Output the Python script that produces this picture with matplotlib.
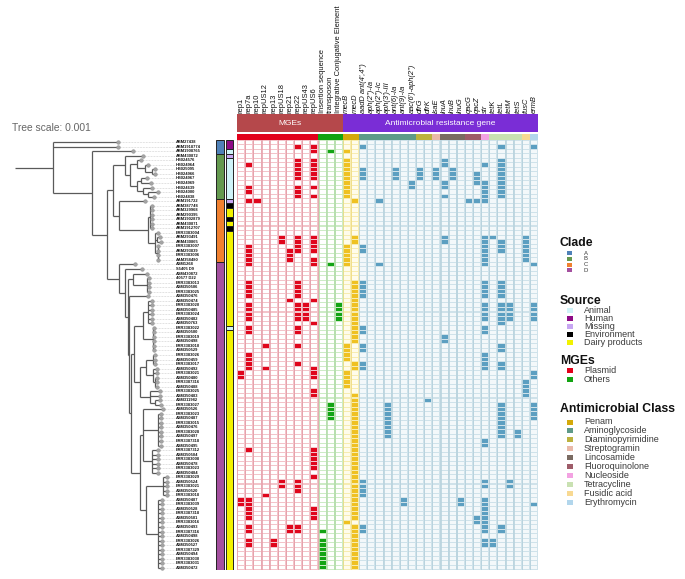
import matplotlib
matplotlib.use("Agg")
import matplotlib.pyplot as plt
from matplotlib.patches import Rectangle
from matplotlib.collections import PatchCollection, LineCollection

plt.rcParams['font.family'] = ['Liberation Sans', 'DejaVu Sans']

# ------------------------------------------------------------------ DATA
leaf_names = [
    "ABM27438", "ABM1918774", "ABM1908765", "ABM430872", "HB024576", "HB024964", "HB025095", "HB024966",
    "HB024967", "HB024969", "HB024639", "HB024000", "HB024838", "ABM191722", "ABM387748", "ABM329968",
    "ABM290395", "ABM1902879", "ABM430871", "ABM1912707", "ERR3383004", "ABM293491", "ABM430865",
    "ERR3383007", "ABM293839", "ERR3383006", "AAM358480",
    "ASM1268", "S5405 D9", "ASM430872", "40577 D22", "ERR3383013", "ASM350506", "ERR3383025", "ASM350476",
    "ASM350474", "ERR3383020", "ASM350485", "ERR3383024", "ASM350482", "ASM350763", "ERR3383022", "ASM350500",
    "ERR3383019", "ASM350498", "ERR3383010", "ASM350529", "ERR3383026", "ASM350459", "ERR3383017", "ASM350492",
    "ERR3383021", "ASM350480", "ERR3387316", "ASM350488", "ERR3383025", "ASM350483", "ASM311982", "ERR3383027",
    "ASM350526", "ERR3383023", "ASM350487", "ERR3383015", "ASM350476", "ERR3383028", "ASM350497", "ERR3387318",
    "ASM350495", "ERR3387312", "ASM350504", "ERR3383008", "ASM350478", "ERR3383023", "ASM350484", "ERR3383029",
    "ASM350524", "ERR3383021", "ASM350520", "ERR3383018", "ASM350487", "ERR3383039", "ASM350528", "ERR3387318",
    "ASM350501", "ERR3383016", "ASM350493", "ERR3387316", "ASM350498", "ERR3383026", "ASM350527", "ERR3387329",
    "ASM350494", "ERR3383030", "ERR3383031", "ASM350472",
]

# phylogeny (leaf = row index), branch lengths in 1e-5 substitutions/site
root_stem = 38
tree_newick = (
    "(0:64.7,1:64.7,(2:41,("
    "((3:18,((4:4,(5:3,(6:3,7:3):7):8):7,((8:6,9:10):4,(10:9,(11:10,12:6):5):6):7):5):12,"
    "(13:26,((14:2,15:2,16:2,17:2,18:2,19:2):2,(20:3,(21:3,22:4):2,(23:0.5,24:0.5,25:0.5,26:0.5):2.5):7):29):6):6,"
    "(27:16,(28:16.7,((29:14,(30:2,31:2,32:2,33:2):14):5,(34:19,("
    "(((35:4,36:4,37:4,38:4,39:4,40:4):5,(41:1,42:1,43:1,44:1,45:1,46:1):10):9,"
    "(((47:2,48:2,49:2):7,(50:4,51:4,(52:2,53:2,54:2):2):7):6,(55:10,56:10,(57:5,58:6):5):10):6):3,"
    "((59:20,(60:3,61:3,62:3,63:3,64:3,65:3,66:3,67:3):15,(68:6,69:6,70:6,71:6,72:6,73:6):9):3,"
    "((74:4,75:4,76:4,77:4,78:4):17,(79:4,80:4,81:4,82:4,83:4,84:4,85:4,86:4,87:4,88:4,89:4,90:4,"
    "91:4,92:4,93:4,94:4):12):6):9):2):1):3):6):12"
    "):15):39):38;"
)

clade_runs = [("A", 3), ("B", 10), ("C", 14), ("D", 68)]
source_runs = [("Human", 2), ("Animal", 1), ("Missing", 1), ("Animal", 9), ("Missing", 1),
               ("Environment", 1), ("Dairy products", 2), ("Environment", 1), ("Dairy products", 1),
               ("Environment", 1), ("Dairy products", 21), ("Animal", 1), ("Dairy products", 53)]

mge_hits = {
    "rep1": [51, 52, 79, 80],
    "rep7a": [5, 10, 11, 13, 23, 24, 25, 26, 27, 31, 32, 33, 34, 36, 37, 38, 39, 41, 42, 47, 48, 49, 50,
              68, 79, 80, 81, 82, 83, 85, 86, 88, 89],
    "rep10": [13],
    "repUS12": [45, 50, 78],
    "rep13": [88, 89],
    "repUS18": [21, 22, 75, 76],
    "rep21": [24, 25, 26, 35, 85, 86],
    "rep22": [1, 4, 5, 6, 7, 8, 10, 11, 12, 21, 22, 23, 24, 31, 32, 33, 34, 36, 37, 38, 39, 41, 42, 45, 49,
              75, 76, 77, 85, 86],
    "repUS43": [36, 37, 38, 39],
    "repUS6": [1, 2, 4, 5, 6, 7, 8, 10, 12, 21, 22, 23, 24, 26, 27, 35, 40, 50, 51, 52, 55, 56, 68, 69, 70,
               71, 72, 74, 81, 82, 83],
    "Insertion sequence": [86, 88, 89, 90, 91, 92, 93, 94],
    "transposon": [2, 27, 58, 59, 60, 61],
    "Integrative Conjugative Element": [36, 37, 38, 39],
}
mge_type = ["Plasmid"] * 10 + ["Others"] * 3

amr_hits = {
    "mecB": [2, 4, 5, 6, 7, 8, 9, 10, 11, 12, 23, 24, 25, 26, 27, 45, 46, 47, 48, 51, 52, 53, 54, 84],
    "mecD": [13, 21, 22, 31, 32, 33, 34, 35, 36, 37, 38, 39, 40, 41, 42, 43, 44, 49, 50, 56, 57, 58, 59, 60,
             61, 62, 63, 64, 65, 66, 67, 68, 69, 70, 71, 72, 73, 74, 75, 76, 77, 78, 79, 80, 81, 82, 83, 85,
             86, 87, 88, 89, 90, 91, 92, 93, 94],
    "aadD ant(4',4'')": [1, 6, 7, 8, 23, 24, 31, 32, 33, 34, 41, 42, 45, 46, 49, 50, 75, 76, 77, 78, 85, 86],
    "aph(2'')-Ia": [],
    "aph(2'')-Ic": [13, 27],
    "aph(3')-III": [58, 59, 60, 61, 62, 63, 64, 65],
    "ant(6)-Ia": [6, 7, 8],
    "ant(9)-Ia": [79, 80],
    "aac(6')-aph(2'')": [9, 10],
    "dfrG": [6, 7, 8],
    "dfrK": [57],
    "lsaE": [6, 7, 8],
    "lnuA": [4, 5, 9, 10, 12, 21, 22, 43, 44],
    "lnuB": [6, 7, 8],
    "lnuG": [79, 80],
    "qacG": [13],
    "qacZ": [7, 8, 9, 13, 83, 84],
    "str": [5, 9, 10, 11, 12, 13, 21, 22, 23, 24, 25, 26, 27, 31, 32, 33, 34, 36, 37, 38, 39, 41, 42, 47,
            48, 49, 50, 66, 67, 75, 76, 79, 80, 81, 82, 83, 84, 85, 86, 88, 89],
    "tetK": [21, 88, 89],
    "tetL": [1, 4, 5, 6, 7, 8, 9, 10, 11, 12, 22, 23, 24, 31, 32, 33, 34, 36, 37, 38, 39, 40, 45, 46, 49,
             50, 58, 59, 60, 61, 62, 63, 64, 65, 85, 86],
    "tetM": [36, 37, 38, 39, 75, 76],
    "tetS": [64, 65],
    "fusC": [21, 22, 23, 24, 25, 26, 53, 54, 55, 56],
    "ermB": [1, 27, 36, 37, 38, 39, 51, 52, 58, 59, 60, 61, 80],
}
amr_class = (["Penam"] * 2 + ["Aminoglycoside"] * 7 + ["Diaminopyrimidine"] * 2 + ["Streptogramin"]
             + ["Lincosamide"] * 3 + ["Fluoroquinolone"] * 2 + ["Nucleoside"] + ["Tetracycline"] * 4
             + ["Fusidic acid"] + ["Erythromycin"])

clade_colors = {"A": "#4F81B8", "B": "#64994F", "C": "#F0802F", "D": "#A4509F"}
source_colors = {"Animal": "#CFF3F8", "Human": "#8E0B86", "Missing": "#C7A6F2",
                 "Environment": "#000000", "Dairy products": "#F2F200"}
mge_colors = {"Plasmid": "#E2001A", "Others": "#12A312"}
class_colors = {"Penam": "#D4A90A", "Aminoglycoside": "#5E9A88", "Diaminopyrimidine": "#BCB23E",
                "Streptogramin": "#E9B9A9", "Lincosamide": "#7A6B62", "Fluoroquinolone": "#9E5C69",
                "Nucleoside": "#F3A2E2", "Tetracycline": "#C9E1B2", "Fusidic acid": "#F8D992",
                "Erythromycin": "#B2D6EC"}

# ------------------------------------------------------------------ FIGURE
W, H = 685, 579
fig = plt.figure(figsize=(W / 100, H / 100), dpi=100)
n_rows = len(leaf_names)
HM_L, HM_R, HM_T, HM_B = 237, 538, 140, 570
row_h = (HM_B - HM_T) / n_rows


def frect(x0, y0, x1, y1):
    return [x0 / W, 1 - y1 / H, (x1 - x0) / W, (y1 - y0) / H]


def px2row(py):
    return (py - HM_T) / row_h


# overlay axes in pixel units for legend / free text
ax_o = fig.add_axes([0, 0, 1, 1])
ax_o.set_xlim(0, W)
ax_o.set_ylim(H, 0)
ax_o.axis("off")

# ---------------- tree
def parse_newick(s):
    s = s.strip().rstrip(";")
    pos = 0

    def node():
        nonlocal pos
        n = {"ch": [], "name": "", "len": 0.0}
        if s[pos] == "(":
            pos += 1
            while True:
                n["ch"].append(node())
                c = s[pos]
                pos += 1
                if c == ")":
                    break
        st = pos
        while pos < len(s) and s[pos] not in ":,)":
            pos += 1
        n["name"] = s[st:pos]
        if pos < len(s) and s[pos] == ":":
            pos += 1
            st = pos
            while pos < len(s) and s[pos] not in ",)":
                pos += 1
            n["len"] = float(s[st:pos])
        return n

    return node()


root = parse_newick(tree_newick)
root_x0 = 15


def layout(n, x0):
    n["x"] = x0 + n["len"]
    if n["ch"]:
        for c in n["ch"]:
            layout(c, n["x"])
        n["y"] = (n["ch"][0]["y"] + n["ch"][-1]["y"]) / 2
    else:
        n["y"] = int(n["name"]) + 0.5


layout(root, root_x0)
segs, tips = [], []


def collect(n):
    if n["ch"]:
        ys = [c["y"] for c in n["ch"]]
        segs.append([(n["x"], min(ys)), (n["x"], max(ys))])
        for c in n["ch"]:
            segs.append([(n["x"], c["y"]), (c["x"], c["y"])])
            collect(c)
    else:
        tips.append((n["x"], n["y"], int(n["name"])))


collect(root)
segs.append([(root_x0, root["y"]), (root["x"], root["y"])])

ax_t = fig.add_axes(frect(0, HM_T, 215, HM_B))
ax_t.set_xlim(0, 215)
ax_t.set_ylim(n_rows, 0)
ax_t.axis("off")
label_x = 176
for tx, ty, ti in tips:
    ax_t.plot([tx, label_x - 1], [ty, ty], color="#C4C4C4", lw=0.5, ls=(0, (1, 1.2)), zorder=1)
ax_t.add_collection(LineCollection(segs, colors="#5A5A5A", linewidths=0.9, zorder=2))
ax_t.scatter([t[0] for t in tips], [t[1] for t in tips], s=7, color="#A3A3A3",
             edgecolors="#8A8A8A", linewidths=0.3, zorder=3)
for tx, ty, ti in tips:
    ax_t.text(label_x, ty, leaf_names[ti], fontsize=2.9, fontweight="bold", ha="left", va="center",
              color="#111111")

ax_o.text(12, 128, "Tree scale: 0.001", fontsize=7.4, color="#666666", ha="left", va="center")

# ---------------- clade / source strips
ax_s = fig.add_axes(frect(214, HM_T, 236, HM_B))
ax_s.set_xlim(214, 236)
ax_s.set_ylim(n_rows, 0)
ax_s.axis("off")
for runs, cmap, x0, x1 in [(clade_runs, clade_colors, 216, 224), (source_runs, source_colors, 226, 233)]:
    r0 = 0
    for name, cnt in runs:
        ax_s.add_patch(Rectangle((x0, r0), x1 - x0, cnt, facecolor=cmap[name], edgecolor="#222222",
                                 lw=0.7))
        r0 += cnt

# ---------------- heatmap
genes = list(mge_hits.keys()) + list(amr_hits.keys())
hits = list(mge_hits.values()) + list(amr_hits.values())
groups = mge_type + ["Penam" if c == "Penam" else "AMR" for c in amr_class]
n_cols = len(genes)

ax_h = fig.add_axes(frect(HM_L, HM_T, HM_R, HM_B))
ax_h.set_xlim(0, n_cols)
ax_h.set_ylim(n_rows, 0)
ax_h.axis("off")

grid_col = {"Plasmid": "#F3C4CA", "Others": "#CDEBC6", "Penam": "#F7ECB0", "AMR": "#CFE2EA"}
vline_col = {"Plasmid": "#E6A3AD", "Others": "#B5DDAC", "Penam": "#F0DE8A", "AMR": "#B9D3DE"}
empty_col = {"Plasmid": "#FFFFFF", "Others": "#FFFFFF", "Penam": "#FFFCEB", "AMR": "#F3F8FA"}
fill_col = {"Plasmid": "#E0061C", "Others": "#13A414", "Penam": "#EFC121", "AMR": "#5C9FC1"}

bg, cells, cell_c = [], [], []
dx, dy = 0.11, 0.12
for j, (g, rows) in enumerate(zip(groups, hits)):
    bg.append(Rectangle((j, 0), 1, n_rows))
    hs = set(rows)
    for i in range(n_rows):
        cells.append(Rectangle((j + dx, i + dy), 1 - 2 * dx, 1 - 2 * dy))
        cell_c.append(fill_col[g] if i in hs else empty_col[g])
ax_h.add_collection(PatchCollection(bg, facecolors=[grid_col[g] for g in groups], edgecolors="none"))
for j, g in enumerate(groups):
    ax_h.plot([j + 0.02, j + 0.02], [0, n_rows], color=vline_col[g], lw=0.6)
    ax_h.plot([j + 0.98, j + 0.98], [0, n_rows], color=vline_col[g], lw=0.6)
ax_h.add_collection(PatchCollection(cells, facecolors=cell_c, edgecolors="none"))

# header
yb0, yb1 = px2row(114.5), px2row(132.5)
yc0, yc1 = px2row(133.6), px2row(139.6)
n_mge = len(mge_hits)
ax_h.add_patch(Rectangle((0, yb0), n_mge, yb1 - yb0, facecolor="#B5484B", edgecolor="none", clip_on=False))
ax_h.add_patch(Rectangle((n_mge, yb0), n_cols - n_mge, yb1 - yb0, facecolor="#7A2DD6", edgecolor="none",
                         clip_on=False))
ax_h.text(n_mge / 2, (yb0 + yb1) / 2, "MGEs", color="white", fontsize=6, ha="center", va="center")
ax_h.text((n_mge + n_cols) / 2, (yb0 + yb1) / 2, "Antimicrobial resistance gene", color="white",
          fontsize=6, ha="center", va="center")
bar_cats = mge_type + amr_class
bar_cmap = dict(mge_colors, **class_colors)
for j, c in enumerate(bar_cats):
    ax_h.add_patch(Rectangle((j, yc0), 1, yc1 - yc0, facecolor=bar_cmap[c], edgecolor="none",
                             clip_on=False))
ylab = px2row(112.6)
for j, g in enumerate(genes):
    ax_h.text(j + 0.5, ylab, g, rotation=90, ha="center", va="bottom", fontsize=5.4,
              style="italic" if j >= n_mge else "normal", color="#111111", clip_on=False)

# ---------------- legends
legends = [
    ("Clade", list(clade_colors.items()), 243, 253.3, 5.6, 4.3, (5, 4)),
    ("Source", list(source_colors.items()), 301, 310.7, 8.0, 6.5, (6, 5)),
    ("MGEs", list(mge_colors.items()), 361, 370.8, 8.3, 6.5, (6, 5)),
    ("Antimicrobial Class", list(class_colors.items()), 409.5, 422.0, 8.95, 6.5, (6, 5)),
]
for title, items, ty, y0, dyy, fs, (sw, sh) in legends:
    ax_o.text(560, ty, title, fontsize=8.8, fontweight="bold", ha="left", va="center", color="#111111")
    for k, (lab, col) in enumerate(items):
        yy = y0 + k * dyy
        ax_o.add_patch(Rectangle((567, yy - sh / 2), sw, sh, facecolor=col, edgecolor="none"))
        ax_o.text(584, yy, lab, fontsize=fs, ha="left", va="center", color="#3A3A3A")

fig.savefig("out.png", dpi=100)
